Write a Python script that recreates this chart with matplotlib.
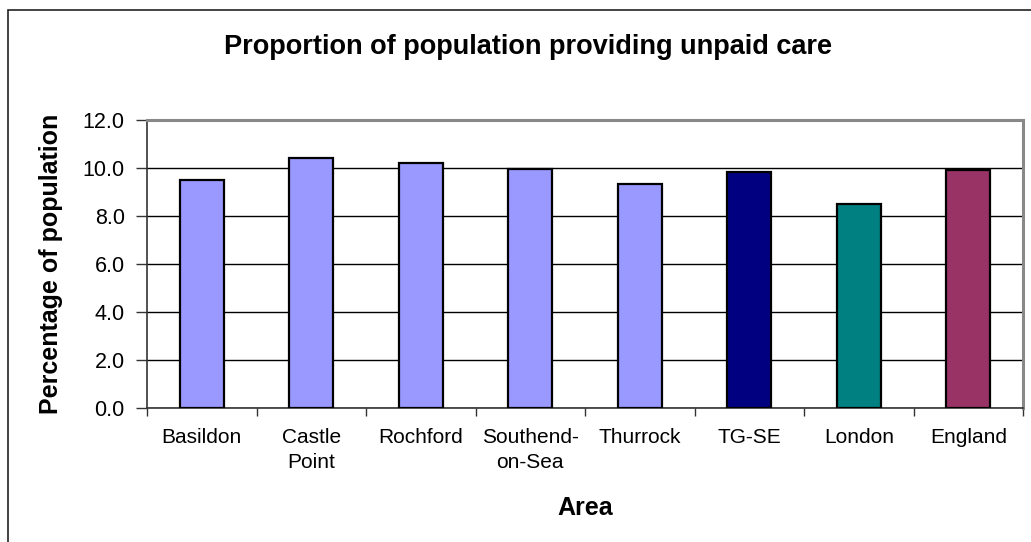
import matplotlib
matplotlib.use("Agg")
import matplotlib.pyplot as plt
from matplotlib.patches import Rectangle

categories = ["Basildon", "Castle\nPoint", "Rochford", "Southend-\non-Sea", "Thurrock", "TG-SE", "London", "England"]
values = [9.5, 10.4, 10.2, 9.95, 9.3, 9.8, 8.5, 9.9]
colors = ["#9999FF", "#9999FF", "#9999FF", "#9999FF", "#9999FF", "#000080", "#008080", "#993366"]
yticks = [0, 2, 4, 6, 8, 10, 12]
title = "Proportion of population providing unpaid care"
xlabel = "Area"
ylabel = "Percentage of population"

plt.rcParams['font.family'] = ['Liberation Sans', 'DejaVu Sans']

W, H = 1031, 542
fig = plt.figure(figsize=(W / 100, H / 100), dpi=100)
fig.patch.set_facecolor("white")

# outer chart border
fig.patches.append(Rectangle((8 / W, -0.2), 2.0, (542 - 9.5) / H + 0.2, transform=fig.transFigure,
                             fill=False, edgecolor="#222222", linewidth=1.2, zorder=0))

left, right = 147 / W, 1023 / W
bottom, top = 1 - 407.5 / H, 1 - 119.5 / H
ax = fig.add_axes([left, bottom, right - left, top - bottom])

x = list(range(len(categories)))
ax.bar(x, values, width=0.40, color=colors, edgecolor="black", linewidth=1.6, zorder=3)

ax.set_xlim(-0.5, len(categories) - 0.5)
ax.set_ylim(0, 12)
ax.set_yticks(yticks)
ax.set_yticklabels([f"{v:.1f}" for v in yticks], fontsize=15.5)
ax.yaxis.grid(True, color="black", linewidth=1.0, zorder=0)
ax.set_axisbelow(True)

ax.set_xticks(x)
ax.set_xticklabels(categories, fontsize=15, linespacing=1.4)
ax.set_xticks([i - 0.5 for i in range(len(categories) + 1)], minor=True)
ax.tick_params(axis="x", which="major", length=0, pad=15)
ax.tick_params(axis="x", which="minor", length=6, width=1.0, color="#333333", direction="out")
ax.tick_params(axis="y", which="major", length=8, width=1.0, color="#333333", direction="out", pad=8)

for side in ["top", "right"]:
    ax.spines[side].set_color("#888888")
    ax.spines[side].set_linewidth(2.2)
for side in ["left", "bottom"]:
    ax.spines[side].set_color("#333333")
    ax.spines[side].set_linewidth(1.2)

fig.text(528 / W, 1 - 54 / H, title, ha="center", va="baseline",
         fontsize=19.5, fontweight="bold")
fig.text((left + right) / 2, 1 - 515 / H, xlabel, ha="center", va="baseline",
         fontsize=18, fontweight="bold")
fig.text(51 / W, (top + bottom) / 2, ylabel, ha="center", va="center", rotation=90,
         fontsize=18, fontweight="bold")

fig.savefig("out.png", dpi=100, facecolor="white")
